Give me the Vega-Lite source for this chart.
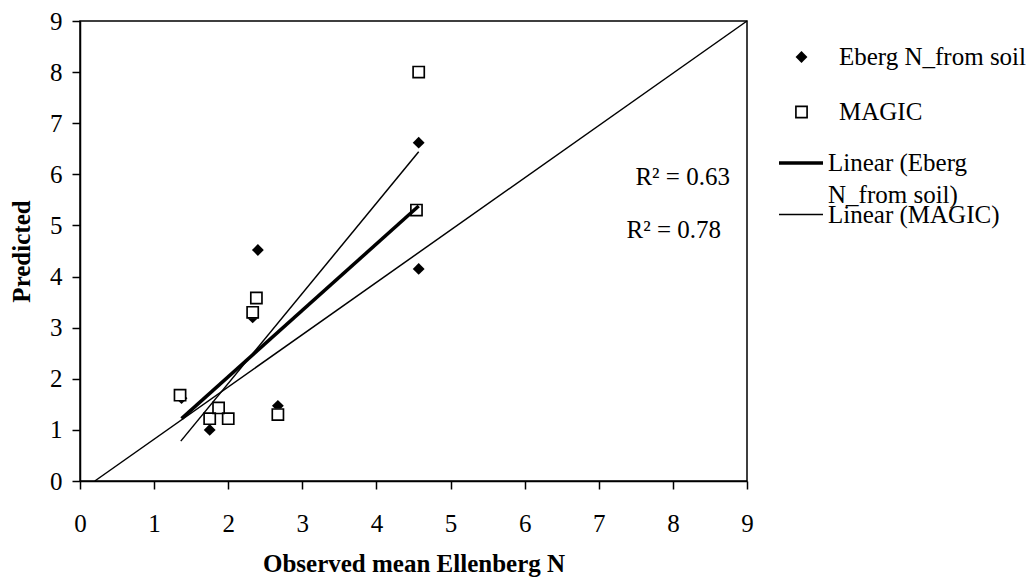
{
  "$schema": "https://vega.github.io/schema/vega-lite/v6.json",
  "width": 667,
  "height": 460,
  "autosize": {"type": "none"},
  "padding": {"left": 80, "top": 21, "right": 286, "bottom": 97},
  "background": "white",
  "config": {
    "view": {"stroke": "black", "strokeWidth": 1.5},
    "font": "Liberation Serif",
    "axis": {
      "grid": false,
      "labelFont": "Liberation Serif",
      "labelFontSize": 25,
      "labelColor": "black",
      "domainColor": "black",
      "domainWidth": 1.5,
      "tickColor": "black",
      "tickWidth": 1.5,
      "tickSize": 8,
      "titleFont": "Liberation Serif",
      "titleFontSize": 25,
      "titleFontWeight": "bold",
      "titleColor": "black"
    },
    "legend": {
      "labelFont": "Liberation Serif",
      "labelFontSize": 25,
      "labelColor": "black",
      "labelLimit": 400,
      "padding": 0,
      "symbolStrokeColor": "black"
    }
  },
  "datasets": {
    "eberg": [
      {"x": 1.37, "y": 1.62, "series": "Eberg N_from soil"},
      {"x": 1.75, "y": 1.0, "series": "Eberg N_from soil"},
      {"x": 2.33, "y": 3.2, "series": "Eberg N_from soil"},
      {"x": 2.4, "y": 4.52, "series": "Eberg N_from soil"},
      {"x": 2.67, "y": 1.47, "series": "Eberg N_from soil"},
      {"x": 4.57, "y": 6.62, "series": "Eberg N_from soil"},
      {"x": 4.57, "y": 4.15, "series": "Eberg N_from soil"}
    ],
    "magic": [
      {"x": 1.35, "y": 1.68, "series": "MAGIC"},
      {"x": 1.75, "y": 1.22, "series": "MAGIC"},
      {"x": 1.87, "y": 1.43, "series": "MAGIC"},
      {"x": 2.0, "y": 1.22, "series": "MAGIC"},
      {"x": 2.33, "y": 3.3, "series": "MAGIC"},
      {"x": 2.38, "y": 3.58, "series": "MAGIC"},
      {"x": 2.67, "y": 1.3, "series": "MAGIC"},
      {"x": 4.54, "y": 5.3, "series": "MAGIC"},
      {"x": 4.57, "y": 8.0, "series": "MAGIC"}
    ],
    "ebergLine": [
      {"x": 1.37, "y": 1.22, "series": "Linear (Eberg N_from soil)"},
      {"x": 4.57, "y": 5.38, "series": "Linear (Eberg N_from soil)"}
    ],
    "magicLine": [
      {"x": 1.36, "y": 0.78, "series": "Linear (MAGIC)"},
      {"x": 4.57, "y": 6.44, "series": "Linear (MAGIC)"}
    ],
    "oneLine": [
      {"x": 0.2, "y": 0},
      {"x": 9.0, "y": 9.0}
    ],
    "r2": [
      {"x": 8.77, "y": 5.95, "label": "R² = 0.63"},
      {"x": 8.65, "y": 4.91, "label": "R² = 0.78"}
    ]
  },
  "encoding": {
    "x": {
      "field": "x",
      "type": "quantitative",
      "scale": {"domain": [0, 9], "nice": false, "zero": false},
      "axis": {"title": "Observed mean Ellenberg N", "values": [0, 1, 2, 3, 4, 5, 6, 7, 8, 9], "labelPadding": 22, "titlePadding": 15, "labelFlush": false}
    },
    "y": {
      "field": "y",
      "type": "quantitative",
      "scale": {"domain": [0, 9], "nice": false, "zero": false},
      "axis": {"title": "Predicted", "values": [0, 1, 2, 3, 4, 5, 6, 7, 8, 9], "labelPadding": 10, "titlePadding": 15, "labelFlush": false}
    }
  },
  "layer": [
    {
      "data": {"name": "oneLine"},
      "mark": {"type": "line", "color": "black", "strokeWidth": 1.5},
      "encoding": {}
    },
    {
      "data": {"name": "eberg"},
      "mark": {"type": "point", "filled": true, "color": "black", "opacity": 1, "size": 140, "strokeWidth": 1},
      "encoding": {
        "shape": {
          "field": "series", "type": "nominal",
          "scale": {"range": ["diamond"]},
          "legend": {
            "title": null, "orient": "none", "legendX": 709, "legendY": 23.5, "labelOffset": 25, "symbolSize": 140,
            "symbolFillColor": "black", "symbolStrokeColor": "black", "symbolStrokeWidth": 1
          }
        }
      }
    },
    {
      "data": {"name": "magic"},
      "mark": {"type": "point", "shape": "square", "filled": true, "color": "white", "opacity": 1, "size": 140, "strokeWidth": 0},
      "encoding": {}
    },
    {
      "data": {"name": "magic"},
      "mark": {"type": "point", "shape": "M-1,-1H1V1H-1Z M-0.74,-0.74V0.74H0.74V-0.74Z", "filled": true, "color": "black", "opacity": 1, "size": 165, "strokeWidth": 0},
      "encoding": {
        "strokeDash": {
          "field": "series", "type": "nominal",
          "scale": {"range": [[1, 0]]},
          "legend": {
            "title": null, "orient": "none", "legendX": 709, "legendY": 78.5, "labelOffset": 25,
            "symbolType": "M-1,-1H1V1H-1Z M-0.74,-0.74V0.74H0.74V-0.74Z", "symbolSize": 165,
            "symbolFillColor": "black", "symbolStrokeWidth": 0
          }
        }
      }
    },
    {
      "data": {"name": "ebergLine"},
      "mark": {"type": "line", "color": "black", "strokeWidth": 3.5},
      "encoding": {
        "stroke": {
          "field": "series", "type": "nominal",
          "scale": {"range": ["black"]},
          "legend": {
            "title": null, "orient": "none", "legendX": 697, "legendY": 118, "labelOffset": 3,
            "symbolType": "stroke", "symbolSize": 1936, "symbolStrokeWidth": 3.5,
            "labelBaseline": "top",
            "labelExpr": "['Linear (Eberg', 'N_from soil)']",
            "encode": {"labels": {"update": {"dy": {"value": -12}, "lineHeight": {"value": 32}}}}
          }
        }
      }
    },
    {
      "data": {"name": "magicLine"},
      "mark": {"type": "line", "color": "black", "strokeWidth": 1.5},
      "encoding": {
        "opacity": {
          "field": "series", "type": "nominal",
          "scale": {"range": [1, 1]},
          "legend": {
            "title": null, "orient": "none", "legendX": 698, "legendY": 170.5, "labelOffset": 4,
            "symbolType": "stroke", "symbolSize": 1936, "symbolStrokeWidth": 1.5, "symbolStrokeColor": "black"
          }
        }
      }
    },
    {
      "data": {"name": "r2"},
      "mark": {"type": "text", "align": "right", "baseline": "middle", "font": "Liberation Serif", "fontSize": 25, "color": "black"},
      "encoding": {"text": {"field": "label", "type": "nominal"}}
    }
  ]
}
